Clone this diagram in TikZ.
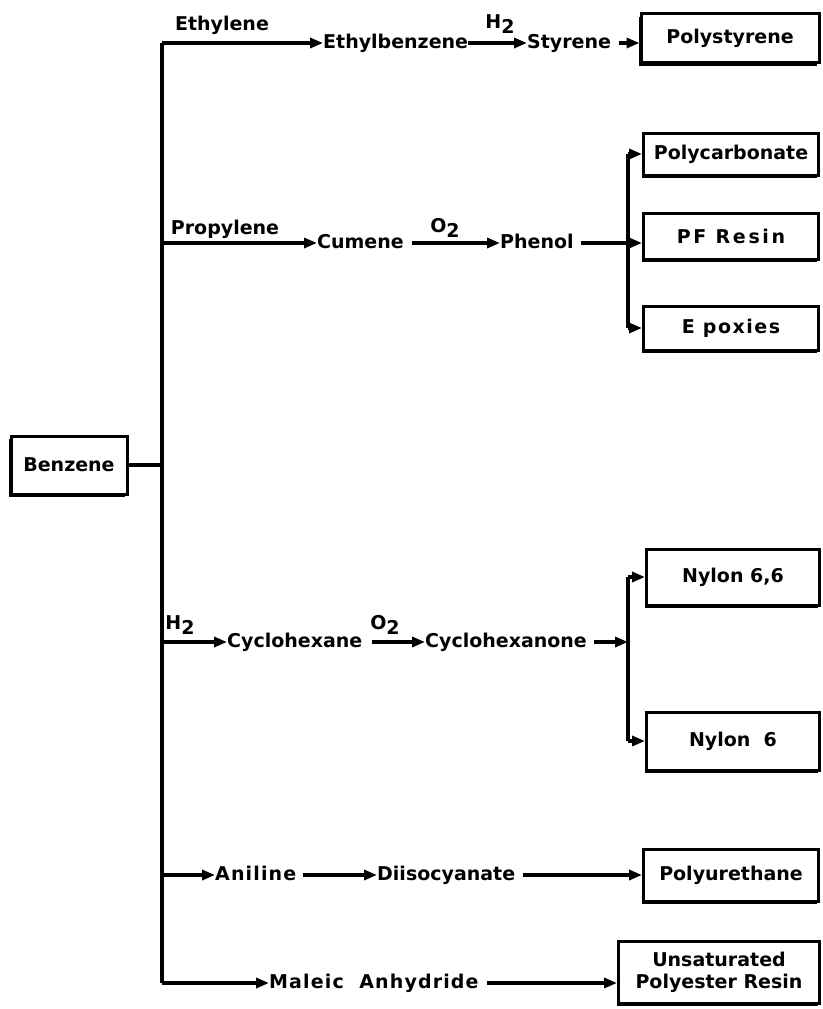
\documentclass[tikz,border=0pt]{standalone}
\usepackage{fontspec}
\setmainfont{DejaVu Sans}
\usetikzlibrary{arrows.meta,shadows}
\begin{document}
\begin{tikzpicture}[x=1pt,y=-1pt,
  fnt/.style={font=\fontsize{19}{22}\selectfont\bfseries},
  txt/.style={fnt,inner sep=0pt,text height=14pt,text depth=3pt},
  sm/.style={fnt,inner sep=0pt},
  prod/.style={fnt,draw,line width=3pt,fill=white,inner sep=0pt,align=center,
    drop shadow={shadow xshift=-2pt,shadow yshift=-3pt,fill=black,opacity=1}},
  ln/.style={line width=3.3pt},
  arr/.style={line width=3.3pt,-{Triangle[length=13pt,width=10pt]}}]
\useasboundingbox (0,0) rectangle (822,1009);
\fill[white] (0,0) rectangle (822,1009);

% benzene
\node[prod,minimum width=116pt,minimum height=58pt] (bz) at (69,465) {Benzene};
\coordinate (ctop) at (162,43);
\coordinate (cbot) at (162,983);
\coordinate (cmid) at (162,465);
\draw[ln] (ctop) -- (cbot);
\draw[ln] (bz.east) -- (cmid);

% ethylene branch
\node[txt,anchor=west] (eb) at (323,43) {Ethylbenzene};
\node[txt,anchor=west] (st) at (527,43) {Styrene};
\node[prod,minimum width=178pt,minimum height=49pt] (ps) at (730,38) {Polystyrene};
\node[sm] (l1) at (222,25) {Ethylene};
\node[sm] (l2) at (500,24) {H\raisebox{-0.45ex}{2}};
\draw[arr] (ctop) -- (eb.west);
\draw[arr] (eb.east) -- (st.west);
\draw[arr] ([xshift=8pt]st.east) -- (ps.west |- st.east);

% propylene branch
\coordinate (cp) at (162,243);
\node[txt,anchor=west] (cu) at (317,243) {Cumene};
\node[txt,anchor=west] (ph) at (500,243) {Phenol};
\node[sm] (l3) at (225,229) {Propylene};
\node[sm] (l4) at (445,228) {O\raisebox{-0.45ex}{2}};
\node[prod,minimum width=175pt,minimum height=42pt] (pc) at (731,154) {Polycarbonate};
\node[prod,minimum width=175pt,minimum height=46pt] (pf) at (731,236) {\addfontfeature{LetterSpace=14}PF Resin};
\node[prod,minimum width=175pt,minimum height=44pt] (ep) at (731,328) {\addfontfeature{LetterSpace=8}E poxies};
\coordinate (ptop) at (628,154);
\coordinate (pbot) at (628,328);
\draw[arr] (cp) -- (cu.west);
\draw[arr] ([xshift=8pt]cu.east) -- (ph.west);
\draw[arr] ([xshift=7pt]ph.east) -- (pf.west |- ph.east);
\draw[ln] (ptop) -- (pbot);
\draw[arr] (ptop) -- (pc.west |- ptop);
\draw[arr] (pbot) -- (ep.west |- pbot);

% cyclohexane branch
\coordinate (ch) at (162,642);
\node[txt,anchor=west] (cy) at (227,642) {Cyclohexane};
\node[txt,anchor=west] (co) at (425,642) {Cyclohexanone};
\node[sm] (l5) at (180,625) {H\raisebox{-0.45ex}{2}};
\node[sm] (l6) at (385,625) {O\raisebox{-0.45ex}{2}};
\node[prod,minimum width=173pt,minimum height=56pt] (n66) at (733,577) {Nylon 6,6};
\node[prod,minimum width=173pt,minimum height=58pt] (n6) at (733,741) {Nylon\ \ 6};
\coordinate (ntop) at (628,577);
\coordinate (nmid) at (628,642);
\coordinate (nbot) at (628,741);
\draw[arr] (ch) -- (cy.west);
\draw[arr] ([xshift=10pt]cy.east) -- (co.west);
\draw[arr] ([xshift=7pt]co.east) -- (nmid);
\draw[ln] (ntop) -- (nbot);
\draw[arr] (ntop) -- (n66.west |- ntop);
\draw[arr] (nbot) -- (n6.west |- nbot);

% aniline branch
\coordinate (ca) at (162,875);
\node[txt,anchor=west] (an) at (215,875) {\addfontfeature{LetterSpace=6}Aniline};
\node[txt,anchor=west] (di) at (377,875) {Diisocyanate};
\node[prod,minimum width=175pt,minimum height=52pt] (pu) at (731,875) {Polyurethane};
\draw[arr] (ca) -- (an.west);
\draw[arr] ([xshift=7pt]an.east) -- (di.west);
\draw[arr] ([xshift=8pt]di.east) -- (pu.west |- di.east);

% maleic branch
\node[txt,anchor=west] (ma) at (269,983) {\addfontfeature{LetterSpace=6}Maleic\ \ Anhydride};
\node[prod,minimum width=201pt,minimum height=62pt] (up) at (719,972) {Unsaturated\\Polyester Resin};
\draw[arr] (cbot) -- (ma.west);
\draw[arr] ([xshift=8pt]ma.east) -- (up.west |- ma.east);
\end{tikzpicture}
\end{document}
